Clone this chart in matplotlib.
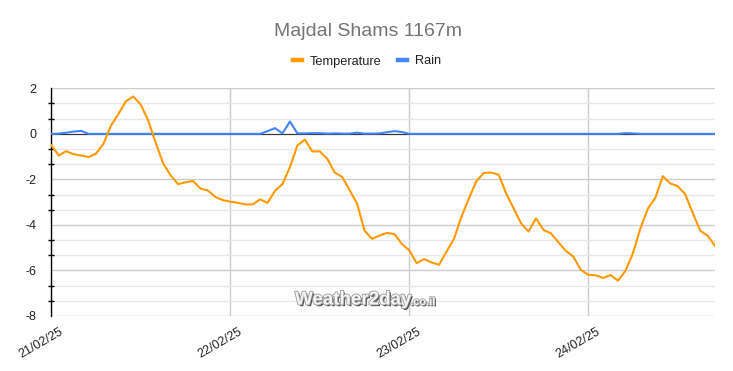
import numpy as np
import matplotlib
matplotlib.use("Agg")
import matplotlib.pyplot as plt
from matplotlib.ticker import MultipleLocator, FixedLocator, NullFormatter
from matplotlib.lines import Line2D
import matplotlib.transforms as mtransforms
import matplotlib.patheffects as pe

title = "Majdal Shams 1167m"
series_names = ["Temperature", "Rain"]
day_labels = ["21/02/25", "22/02/25", "23/02/25", "24/02/25"]
day_hours = [0, 24, 48, 72]

hours = list(range(90))
temperature = [
    -0.5, -0.95, -0.76, -0.9, -0.95, -1.02, -0.87, -0.44, 0.36, 0.87,
    1.43, 1.64, 1.28, 0.58, -0.39, -1.3, -1.82, -2.21, -2.13, -2.07,
    -2.4, -2.49, -2.77, -2.91, -2.98, -3.03, -3.1, -3.1, -2.88, -3.03,
    -2.5, -2.21, -1.46, -0.51, -0.25, -0.77, -0.77, -1.09, -1.7, -1.89,
    -2.47, -3.06, -4.25, -4.61, -4.47, -4.35, -4.4, -4.83, -5.12, -5.68,
    -5.5, -5.65, -5.75, -5.17, -4.61, -3.64, -2.84, -2.08, -1.72, -1.7,
    -1.8, -2.62, -3.28, -3.93, -4.29, -3.71, -4.22, -4.37, -4.76, -5.14,
    -5.39, -5.97, -6.19, -6.21, -6.33, -6.2, -6.45, -6.01, -5.24, -4.15,
    -3.28, -2.81, -1.86, -2.18, -2.3, -2.65, -3.46, -4.25, -4.47, -4.92,
]
rain = [
    0, 0.01, 0.05, 0.1, 0.13, 0, 0, 0, 0, 0,
    0, 0, 0, 0, 0, 0, 0, 0, 0, 0,
    0, 0, 0, 0, 0, 0, 0, 0, 0, 0.12,
    0.25, 0.02, 0.54, 0.02, 0.02, 0.03, 0.03, 0.01, 0.02, 0.01,
    0.01, 0.05, 0.01, 0.01, 0.02, 0.07, 0.12, 0.08, 0, 0,
    0, 0, 0, 0, 0, 0, 0, 0, 0, 0,
    0, 0, 0, 0, 0, 0, 0, 0, 0, 0,
    0, 0, 0, 0, 0, 0, 0, 0.03, 0.02, 0,
    0, 0, 0, 0, 0, 0, 0, 0, 0, 0,
]
y_ticks = [2, 0, -2, -4, -6, -8]

plt.rcParams['font.family'] = ['Liberation Sans', 'DejaVu Sans']

W, H = 733, 371
fig = plt.figure(figsize=(W / 100, H / 100), dpi=100)
x0, x1, ytop, ybot = 51.3, 715.0, 88.3, 316.0
ax = fig.add_axes([x0 / W, 1 - ybot / H, (x1 - x0) / W, (ybot - ytop) / H])

orange = "#ff9900"
blue = "#4285f4"

ax.axhline(0, color="#333333", lw=0.8, zorder=2)
ax.plot(hours, rain, color=blue, lw=1.5, zorder=3, solid_joinstyle="round")
ax.plot(hours, temperature, color=orange, lw=1.5, zorder=4, solid_joinstyle="round")

ax.set_xlim(0, 89)
ax.set_ylim(-8, 2)

ax.yaxis.set_major_locator(FixedLocator(y_ticks))
ax.yaxis.set_minor_locator(MultipleLocator(2 / 3))
ax.yaxis.set_minor_formatter(NullFormatter())
ax.set_yticklabels([str(v) for v in y_ticks])
ax.grid(which="major", axis="y", color="#cccccc", lw=1.0, zorder=0)
ax.grid(which="minor", axis="y", color="#e8e8e8", lw=1.0, zorder=0)
ax.tick_params(axis="y", which="major", length=0, pad=11, labelsize=9, labelcolor="#222222")
ax.tick_params(axis="y", which="minor", length=5, width=1, direction="inout", color="#000000")

ax.set_xticks(day_hours)
ax.set_xticklabels(day_labels, rotation=30, ha="right", rotation_mode="anchor")
ax.grid(which="major", axis="x", color="#cccccc", lw=1.0, zorder=0)
ax.tick_params(axis="x", length=0, pad=7, labelsize=9, labelcolor="#222222")
offset = mtransforms.ScaledTranslation(8 / 100, 0, fig.dpi_scale_trans)
for lab in ax.get_xticklabels():
    lab.set_transform(lab.get_transform() + offset)

for s in ["top", "right", "bottom"]:
    ax.spines[s].set_visible(False)
ax.spines["left"].set_color("#000000")
ax.spines["left"].set_linewidth(1.0)
ax.set_axisbelow(True)

fig.text(367.5 / W, 1 - 31 / H, title, ha="center", va="center",
         fontsize=14, color="#757575")

handles = [Line2D([0], [0], color=orange, lw=3.2),
           Line2D([0], [0], color=blue, lw=3.2)]
fig.legend(handles, series_names, loc="center", bbox_to_anchor=(367 / W, 1 - 61.5 / H),
           ncol=2, frameon=False, fontsize=9.2, handlelength=0.7, handletextpad=0.6,
           columnspacing=1.3, labelcolor="#222222")

wm = fig.text(295 / W, 1 - 300 / H, "Weather2day", ha="left", va="center",
              fontsize=13.5, fontweight="bold", color="#f4f4f4")
wm.set_path_effects([pe.withSimplePatchShadow(offset=(1.2, -1.2), shadow_rgbFace="#333333", alpha=0.85),
                     pe.Stroke(linewidth=1.2, foreground="#9a9a9a"), pe.Normal()])
wm2 = fig.text(410 / W, 1 - 302 / H, ".co.il", ha="left", va="center",
               fontsize=8, fontweight="bold", color="#f4f4f4")
wm2.set_path_effects([pe.withSimplePatchShadow(offset=(1, -1), shadow_rgbFace="#333333", alpha=0.85),
                      pe.Stroke(linewidth=1.0, foreground="#9a9a9a"), pe.Normal()])

fig.savefig("out.png", dpi=100)
